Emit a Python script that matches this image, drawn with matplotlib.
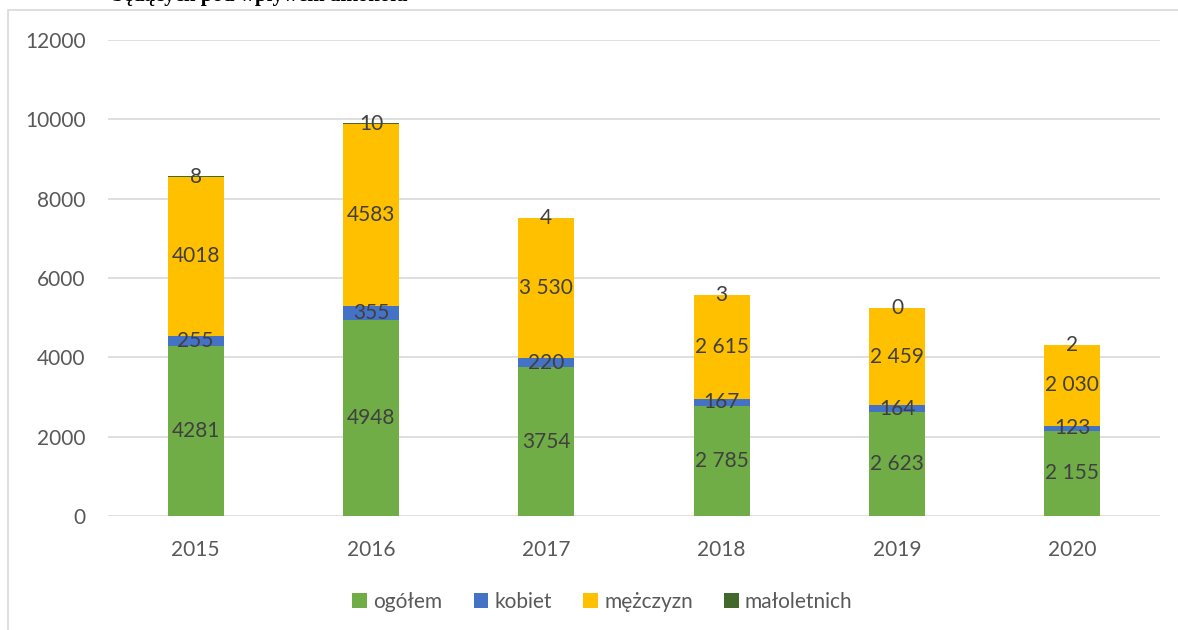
import numpy as np
import matplotlib
matplotlib.use('Agg')
import matplotlib.pyplot as plt
from matplotlib.patches import Rectangle

years = ['2015', '2016', '2017', '2018', '2019', '2020']
ogolem = [4281, 4948, 3754, 2785, 2623, 2155]
kobiet = [255, 355, 220, 167, 164, 123]
mezczyzn = [4018, 4583, 3530, 2615, 2459, 2030]
maloletnich = [8, 10, 4, 3, 0, 2]

# labels as printed in the source (mixed thousand separators)
ogolem_lbl = ['4281', '4948', '3754', '2 785', '2 623', '2 155']
kobiet_lbl = ['255', '355', '220', '167', '164', '123']
mezczyzn_lbl = ['4018', '4583', '3 530', '2 615', '2 459', '2 030']
maloletnich_lbl = ['8', '10', '4', '3', '0', '2']

series = [
    ('ogółem', ogolem, ogolem_lbl, '#70AD47'),
    ('kobiet', kobiet, kobiet_lbl, '#4472C4'),
    ('mężczyzn', mezczyzn, mezczyzn_lbl, '#FFC000'),
    ('małoletnich', maloletnich, maloletnich_lbl, '#43682B'),
]

plt.rcParams['font.family'] = ['Lato', 'DejaVu Sans']

fig = plt.figure(figsize=(11.78, 6.3), dpi=100)
ax = fig.add_axes([108 / 1178, 114 / 630, 1052 / 1178, 476 / 630])

# chart border (light grey frame, cut off at right/bottom)
fig.add_artist(Rectangle((8 / 1178, -0.05), 1.2, 1 - 10 / 630 + 0.05,
                         transform=fig.transFigure, fill=False,
                         edgecolor='#D9D9D9', linewidth=1.2))

# cropped title from the document above the chart (only its lower edge shows)
fig.text(112 / 1178, 1 - 1 / 630, 'będących pod wpływem alkoholu',
         family='Liberation Serif', fontweight='bold', fontsize=15,
         va='baseline', ha='left', color='black')

x = np.arange(len(years))
width = 0.32
bottom = np.zeros(len(years))
for name, vals, lbls, col in series:
    vals = np.array(vals, dtype=float)
    ax.bar(x, vals, width, bottom=bottom, color=col, label=name, zorder=3)
    for xi, b, v, t in zip(x, bottom, vals, lbls):
        ax.text(xi, b + v / 2, t, ha='center', va='center',
                fontsize=15, color='#404040', zorder=4)
    bottom += vals

ax.set_xlim(-0.5, 5.5)
ax.set_ylim(0, 12000)
ax.set_yticks(range(0, 12001, 2000))
ax.set_xticks(x)
ax.set_xticklabels(years)
ax.grid(axis='y', color='#D9D9D9', linewidth=1.2, zorder=0)
for s in ax.spines.values():
    s.set_visible(False)
ax.tick_params(axis='both', length=0, labelsize=15, colors='#595959')
ax.tick_params(axis='y', pad=16)
ax.tick_params(axis='x', pad=17)

ax.legend(loc='upper center', bbox_to_anchor=(0.47, -0.12), ncol=4,
          frameon=False, fontsize=15, labelcolor='#595959',
          handlelength=0.7, handleheight=0.7, handletextpad=0.3,
          columnspacing=1.5)

fig.savefig('out.png', dpi=100)
